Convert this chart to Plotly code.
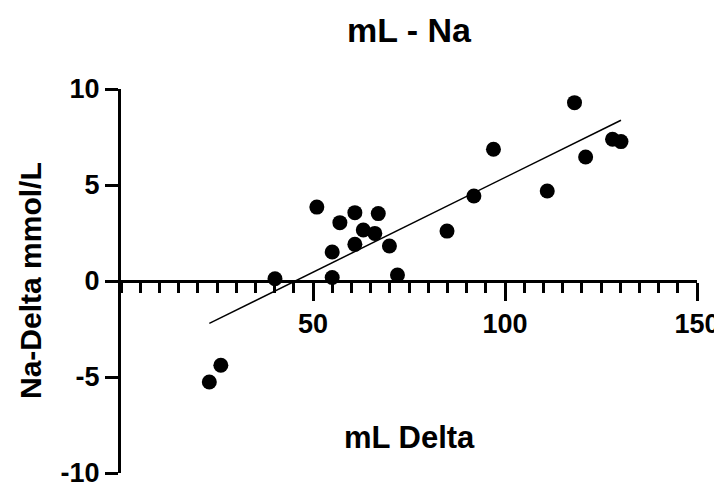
import numpy as np
import plotly.graph_objects as go

# Data
ml_delta = [23.0, 26.0, 40.1, 55.0, 55.0, 51.0, 57.0, 60.9, 60.9, 63.1, 66.1,
            67.0, 69.9, 72.0, 84.9, 91.9, 97.0, 111.0, 118.1, 121.0, 128.0, 130.2]
na_delta = [-5.26, -4.39, 0.12, 0.18, 1.51, 3.85, 3.04, 3.56, 1.91, 2.66, 2.48,
            3.51, 1.82, 0.31, 2.60, 4.43, 6.86, 4.69, 9.29, 6.46, 7.38, 7.26]

x_ticks = [50, 100, 150]
y_ticks = [-10, -5, 0, 5, 10]

# Linear regression line
slope, intercept = np.polyfit(ml_delta, na_delta, 1)
fit_x = [min(ml_delta), max(ml_delta)]
fit_y = [slope * v + intercept for v in fit_x]

FONT = "Liberation Sans, Arial, sans-serif"
OFF = 8  # page body margin

fig = go.Figure()
fig.add_trace(go.Scatter(x=fit_x, y=fit_y, mode="lines",
                         line=dict(color="black", width=1.5),
                         showlegend=False, hoverinfo="skip"))
fig.add_trace(go.Scatter(x=ml_delta, y=na_delta, mode="markers",
                         marker=dict(color="black", size=15),
                         showlegend=False))

W, H = 722 - OFF, 490 - OFF
fig.update_layout(
    width=W, height=H,
    margin=dict(l=121 - OFF, r=25, t=89 - OFF, b=17, autoexpand=False),
    paper_bgcolor="white", plot_bgcolor="white",
    font=dict(family=FONT, color="black"),
    title=dict(text="mL - Na", x=0.5, xref="paper", xanchor="center",
               y=1 - (30 - OFF) / H, yref="container", yanchor="middle", automargin=False,
               font=dict(size=34, family=FONT, color="black", weight="bold")),
    xaxis=dict(range=[0, 150], tickvals=x_ticks, ticktext=[str(v) for v in x_ticks],
               showgrid=False, zeroline=False, automargin=False,
               showline=True, linecolor="black", linewidth=3,
               ticks="outside", ticklen=18, tickwidth=3, tickcolor="black",
               minor=dict(dtick=5, ticks="outside", ticklen=10, tickwidth=2.5,
                          tickcolor="black", showgrid=False),
               anchor="free", position=0.5,
               tickfont=dict(size=27, family=FONT, color="black", weight="bold")),
    yaxis=dict(range=[-10, 10], tickvals=y_ticks, ticktext=[str(v) for v in y_ticks],
               showgrid=False, zeroline=False, automargin=False,
               showline=True, linecolor="black", linewidth=3,
               ticks="outside", ticklen=13, tickwidth=3, tickcolor="black",
               tickfont=dict(size=27, family=FONT, color="black", weight="bold"),
               domain=[0, 1]),
    annotations=[
        dict(text="mL Delta", xref="paper", yref="paper",
             x=0.5, y=(473.3 - 438) / 384, xanchor="center", yanchor="middle",
             showarrow=False,
             font=dict(size=31, family=FONT, color="black", weight="bold")),
        dict(text="Na-Delta mmol/L", xref="paper", yref="paper",
             x=(30 - 121) / 576, y=0.5, xanchor="center", yanchor="middle",
             textangle=-90, showarrow=False,
             font=dict(size=30, family=FONT, color="black", weight="bold")),
    ],
)

fig.write_html("out.html")
